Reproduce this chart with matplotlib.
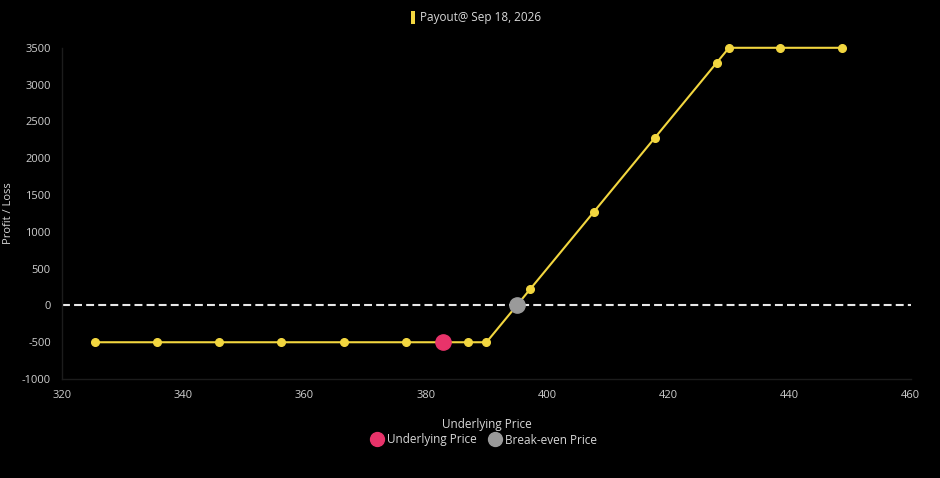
import matplotlib
matplotlib.use("Agg")
import matplotlib.pyplot as plt
from matplotlib.lines import Line2D
from matplotlib.patches import Rectangle

plt.rcParams['font.family'] = ['Open Sans', 'DejaVu Sans']
plt.rcParams['axes.unicode_minus'] = False

# Data
prices = [325.4, 335.7, 345.9, 356.1, 366.5, 376.7, 387.0, 390.0, 397.2, 407.7, 417.8, 428.0, 430.0, 438.4, 448.6]
payout = [-500, -500, -500, -500, -500, -500, -500, -500, 220, 1270, 2280, 3300, 3500, 3500, 3500]
underlying_price = 382.8
underlying_pl = -500
breakeven_price = 395.0
breakeven_pl = 0
x_ticks = [320, 340, 360, 380, 400, 420, 440, 460]
y_ticks = [-1000, -500, 0, 500, 1000, 1500, 2000, 2500, 3000, 3500]
series_label = "Payout@ Sep 18, 2026"

fig = plt.figure(figsize=(9.4, 4.78), dpi=100, facecolor='black')
ax = fig.add_axes([0.066, 0.207, 0.903, 0.693], facecolor='black')

yellow = '#f2d63f'
ax.axhline(0, color='#e8e8e8', lw=1.5, ls=(0, (3.8, 2.0)), zorder=1)
ax.plot(prices, payout, color=yellow, lw=1.5, marker='o', markersize=5.5,
        markerfacecolor=yellow, markeredgecolor=yellow, zorder=3, clip_on=False)
ax.plot([underlying_price], [underlying_pl], 'o', color='#e8336a', markersize=11, zorder=4, clip_on=False)
ax.plot([breakeven_price], [breakeven_pl], 'o', color='#9a9a9a', markersize=11, zorder=4, clip_on=False)

ax.set_xlim(320, 460)
ax.set_ylim(-1000, 3500)
ax.set_xticks(x_ticks)
ax.set_yticks(y_ticks)
ax.tick_params(colors='#cfcfcf', labelsize=8, length=0, pad=8)
for s in ['top', 'right']:
    ax.spines[s].set_visible(False)
for s in ['left', 'bottom']:
    ax.spines[s].set_color('#1c1c1c')
    ax.spines[s].set_linewidth(1)
ax.set_xlabel('Underlying Price', color='#d8d8d8', fontsize=8.5, labelpad=12)
fig.text(9/940, 1-213/478, 'Profit / Loss', color='#d8d8d8', fontsize=8,
         rotation=90, ha='center', va='center')

# Top legend
fig.patches.append(Rectangle((411/940, 1-24/478), 4/940, 13/478, transform=fig.transFigure,
                             facecolor=yellow, edgecolor='none'))
fig.text(420/940, 1-18/478, series_label, color='#d8d8d8', fontsize=8.5, va='center', ha='left')

# Bottom legend
handles = [Line2D([], [], ls='none', marker='o', color='#e8336a', markersize=10, label='Underlying Price'),
           Line2D([], [], ls='none', marker='o', color='#9a9a9a', markersize=10, label='Break-even Price')]
leg = fig.legend(handles=handles, loc='center', bbox_to_anchor=(484/940, 1-440/478), ncol=2,
                 frameon=False, fontsize=8.5, handletextpad=0.35, columnspacing=1.0, handlelength=1.0)
for t in leg.get_texts():
    t.set_color('#d8d8d8')

fig.savefig('out.png', dpi=100, facecolor='black')
